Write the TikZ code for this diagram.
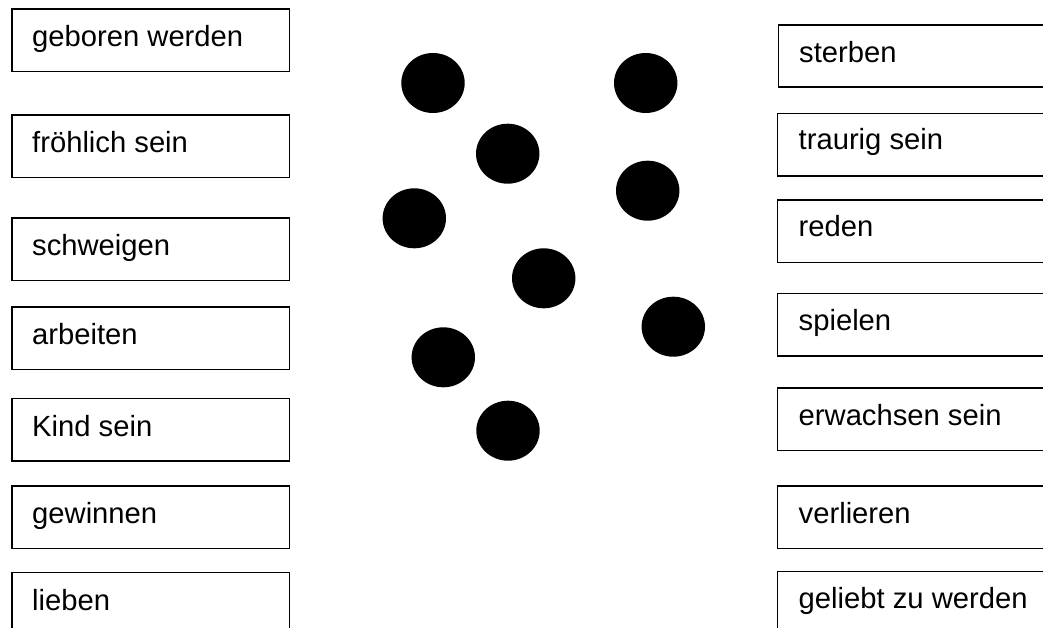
\documentclass[tikz,border=0pt]{standalone}
\usepackage{fontspec}
\setmainfont{Liberation Sans}
\usetikzlibrary{shapes.geometric}
\tikzset{
  wbox/.style={draw=black, line width=1.6pt, rectangle, anchor=north west, minimum width=277.5pt, minimum height=62.5pt, inner sep=0pt},
  rbox/.style={draw=black, line width=1.6pt, rectangle, anchor=north west, minimum width=320pt, minimum height=62.5pt, inner sep=0pt},
  wtxt/.style={anchor=base west, inner sep=0pt, font=\fontsize{29.2}{34}\selectfont},
  dot/.style={ellipse, fill=black, draw=none, minimum width=63.4pt, minimum height=60pt, inner sep=0pt}
}
\begin{document}
\begin{tikzpicture}[x=1pt,y=-1pt]
\clip (0,0) rectangle (1043,628);
\fill[white] (0,0) rectangle (1043,628);
% left boxes
\node[wbox] (l1) at (11,8.3) {};
\node[wbox] (l2) at (11,114.3) {};
\node[wbox] (l3) at (11,217) {};
\node[wbox] (l4) at (11,306) {};
\node[wbox] (l5) at (11,397.7) {};
\node[wbox] (l6) at (11,485) {};
\node[wbox, minimum height=80pt] (l7) at (11,571.7) {};
\node[wtxt] (lt1) at ([shift={(21,38.5)}]l1.north west) {geboren werden};
\node[wtxt] (lt2) at ([shift={(21,38.5)}]l2.north west) {fröhlich sein};
\node[wtxt] (lt3) at ([shift={(21,38.5)}]l3.north west) {schweigen};
\node[wtxt] (lt4) at ([shift={(21,38.5)}]l4.north west) {arbeiten};
\node[wtxt] (lt5) at ([shift={(21,38.5)}]l5.north west) {Kind sein};
\node[wtxt] (lt6) at ([shift={(21,38.5)}]l6.north west) {gewinnen};
\node[wtxt] (lt7) at ([shift={(21,38.5)}]l7.north west) {lieben};
% right boxes
\node[rbox] (r1) at (777.5,24) {};
\node[rbox] (r2) at (776.5,112.7) {};
\node[rbox] (r3) at (776.5,199.3) {};
\node[rbox] (r4) at (776.5,292.7) {};
\node[rbox] (r5) at (776.5,387.3) {};
\node[rbox] (r6) at (776.5,485) {};
\node[rbox, minimum height=80pt] (r7) at (776.5,570.7) {};
\node[wtxt] (rt1) at ([shift={(21.5,38.5)}]r1.north west) {sterben};
\node[wtxt] (rt2) at ([shift={(22,36.5)}]r2.north west) {traurig sein};
\node[wtxt] (rt3) at ([shift={(22,37.5)}]r3.north west) {reden};
\node[wtxt] (rt4) at ([shift={(22,38)}]r4.north west) {spielen};
\node[wtxt] (rt5) at ([shift={(22,38)}]r5.north west) {erwachsen sein};
\node[wtxt] (rt6) at ([shift={(22,38)}]r6.north west) {verlieren};
\node[wtxt] (rt7) at ([shift={(22,38)}]r7.north west) {geliebt zu werden};
% dots
\node[dot] (d1) at (433,83) {};
\node[dot] (d2) at (645.7,83) {};
\node[dot] (d3) at (507.7,153.7) {};
\node[dot] (d4) at (647.7,190.7) {};
\node[dot] (d5) at (414.3,218.3) {};
\node[dot] (d6) at (543.7,278.3) {};
\node[dot] (d7) at (673.3,326.7) {};
\node[dot] (d8) at (443.3,357.3) {};
\node[dot] (d9) at (508,430.7) {};
\end{tikzpicture}
\end{document}
